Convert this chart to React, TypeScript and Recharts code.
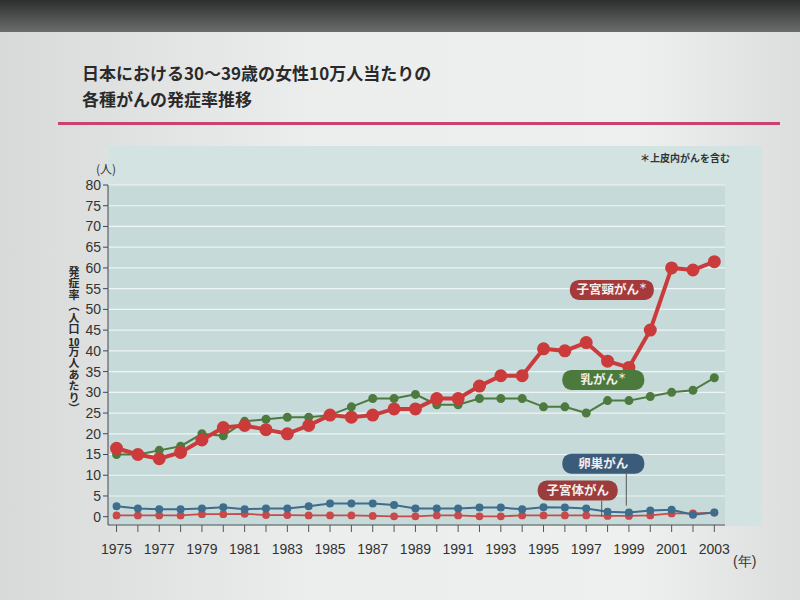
import React from 'react';
import { LineChart, Line, XAxis, YAxis, CartesianGrid, ReferenceDot } from 'recharts';

const years = [1975, 1976, 1977, 1978, 1979, 1980, 1981, 1982, 1983, 1984, 1985, 1986, 1987, 1988, 1989, 1990, 1991, 1992, 1993, 1994, 1995, 1996, 1997, 1998, 1999, 2000, 2001, 2002, 2003];
const cervical = [16.5, 15, 14, 15.5, 18.5, 21.5, 22, 21, 20, 22, 24.5, 24, 24.5, 26, 26, 28.5, 28.5, 31.5, 34, 34, 40.5, 40, 42, 37.5, 36, 45, 60, 59.5, 61.5];
const breast = [15, 15, 16, 17, 20, 19.5, 23, 23.5, 24, 24, 24.5, 26.5, 28.5, 28.5, 29.5, 27, 27, 28.5, 28.5, 28.5, 26.5, 26.5, 25, 28, 28, 29, 30, 30.5, 33.5];
const ovarian = [2.5, 2, 1.8, 1.8, 2, 2.3, 1.8, 2, 2, 2.5, 3.2, 3.2, 3.2, 2.8, 2, 2, 2, 2.2, 2.2, 1.8, 2.3, 2.2, 2, 1.2, 1, 1.5, 1.7, 0.5, 1];
const uterine = [0.3, 0.3, 0.3, 0.3, 0.6, 0.6, 0.7, 0.4, 0.4, 0.3, 0.3, 0.3, 0.2, 0.1, 0.1, 0.3, 0.3, 0.1, 0.1, 0.3, 0.3, 0.3, 0.3, 0.2, 0.2, 0.3, 0.8, 0.8, 1.0];
const yTicks = [0, 5, 10, 15, 20, 25, 30, 35, 40, 45, 50, 55, 60, 65, 70, 75, 80];

const titleLines = ['日本における30～39歳の女性10万人当たりの', '各種がんの発症率推移'];
const yLabelParts = ['発症率（人口', '10', '万人あたり）'];
const note = '＊上皮内がんを含む';

const data = years.map((year, i) => ({
  year,
  cervical: cervical[i],
  breast: breast[i],
  ovarian: ovarian[i],
  uterine: uterine[i],
}));

const JP = '"Noto Sans CJK JP", "Noto Sans", sans-serif';
const NUM = '"Liberation Sans Narrow", "Liberation Sans", Roboto, sans-serif';

function Tag(props: any) {
  const { cx, cy, text, fill, w, leaderDx, leaderLen, sup } = props;
  if (cx == null || cy == null) return null;
  const h = 20;
  return (
    <g>
      {leaderLen ? (
        <line x1={cx + leaderDx} y1={cy + h / 2} x2={cx + leaderDx} y2={cy + h / 2 + leaderLen} stroke="#555" strokeWidth={1} />
      ) : null}
      <rect x={cx - w / 2} y={cy - h / 2} width={w} height={h} rx={9} ry={9} fill={fill} />
      <text x={cx} y={cy + 4.5} textAnchor="middle" fill="#f3eeee" fontSize={12.5} fontWeight={700} fontFamily={JP}>
        {text}
        {sup ? <tspan fontSize={8} dy={-5}>＊</tspan> : null}
      </text>
    </g>
  );
}

export default function App() {
  return (
    <div style={{ position: 'absolute', left: 0, top: 0, width: 800, height: 600, background: '#e6e8e8', overflow: 'hidden', fontFamily: JP }}>
      <div style={{ position: 'absolute', left: 0, top: 0, width: 800, height: 32, background: 'linear-gradient(#2e2e2e, #6b6d6d)' }} />
      <div style={{ position: 'absolute', left: 0, top: 32, width: 800, height: 568, background: 'linear-gradient(90deg, #d8dada, #eceeee 40%, #eef0f0 80%, #dcdede)' }} />
      <div style={{ position: 'absolute', left: 82, top: 60, fontSize: 17, fontWeight: 700, color: '#2a2a2a', lineHeight: '26px' }}>
        <div>{titleLines[0]}</div>
        <div>{titleLines[1]}</div>
      </div>
      <div style={{ position: 'absolute', left: 58, top: 122, width: 722, height: 3, background: '#c9436e' }} />
      <div style={{ position: 'absolute', left: 108, top: 146, width: 654, height: 380, background: '#d2e3e2' }} />
      <div style={{ position: 'absolute', left: 640, top: 150, fontSize: 10, fontWeight: 700, color: '#333' }}>{note}</div>
      <div style={{ position: 'absolute', left: 96, top: 160, fontSize: 12, color: '#333' }}>(人)</div>
      <div style={{ position: 'absolute', left: 66, top: 266, fontSize: 11, fontWeight: 700, color: '#2a2a2a', writingMode: 'vertical-rl', letterSpacing: 0.5 }}>
        {yLabelParts[0]}
        <span style={{ textCombineUpright: 'all' } as any}>{yLabelParts[1]}</span>
        {yLabelParts[2]}
      </div>
      <div style={{ position: 'absolute', left: 733, top: 553, fontSize: 14, color: '#333', fontFamily: NUM }}>(年)</div>
      <div style={{ position: 'absolute', left: 0, top: 0 }}>
        <LineChart width={800} height={600} data={data} margin={{ top: 185, right: 75, bottom: 35, left: 0 }}>
          <CartesianGrid vertical={false} horizontal={true} stroke="#eef5f5" strokeWidth={1.2} fill="#c5dad9" horizontalValues={yTicks.filter((t) => t > 0)} />
          <XAxis
            dataKey="year"
            type="number"
            domain={[1974.6, 2003.5]}
            ticks={years}
            interval={0}
            tickFormatter={(v: number) => (v % 2 === 1 ? String(v) : '')}
            tick={{ fontSize: 14, fill: '#333', fontFamily: NUM }}
            tickLine={{ stroke: '#555' }}
            axisLine={{ stroke: '#555' }}
            tickSize={7}
            tickMargin={12}
            height={40}
          />
          <YAxis
            type="number"
            domain={[-2, 80]}
            ticks={yTicks}
            interval={0}
            width={108}
            tick={{ fontSize: 14, fill: '#333', fontFamily: NUM }}
            tickLine={{ stroke: '#445' }}
            axisLine={{ stroke: '#445' }}
            tickSize={5}
          />
          <Line type="linear" dataKey="uterine" stroke="#c94a4b" strokeWidth={1.8} dot={{ r: 3, fill: '#c94a4b', stroke: '#c94a4b' }} isAnimationActive={false} />
          <Line type="linear" dataKey="ovarian" stroke="#3f6d8d" strokeWidth={2} dot={{ r: 3, fill: '#3f6d8d', stroke: '#3f6d8d' }} isAnimationActive={false} />
          <Line type="linear" dataKey="breast" stroke="#4d7b3f" strokeWidth={2} dot={{ r: 3.5, fill: '#4d7b3f', stroke: '#4d7b3f' }} isAnimationActive={false} />
          <Line type="linear" dataKey="cervical" stroke="#cc3b3b" strokeWidth={4} dot={{ r: 4.5, fill: '#cc3b3b', stroke: '#cc3b3b' }} isAnimationActive={false} />
          <ReferenceDot x={1998.2} y={54.7} r={0} shape={(p: any) => <Tag {...p} text="子宮頸がん" sup fill="#a63a3b" w={84} />} />
          <ReferenceDot x={1997.8} y={33} r={0} shape={(p: any) => <Tag {...p} text="乳がん" sup fill="#4b7a3c" w={82} />} />
          <ReferenceDot x={1997.8} y={12.8} r={0} shape={(p: any) => <Tag {...p} text="卵巣がん" fill="#3a5c7a" w={82} leaderDx={23} leaderLen={32} />} />
          <ReferenceDot x={1996.6} y={6.3} r={0} shape={(p: any) => <Tag {...p} text="子宮体がん" fill="#9c3d3b" w={80} leaderDx={24} leaderLen={16} />} />
        </LineChart>
      </div>
    </div>
  );
}
